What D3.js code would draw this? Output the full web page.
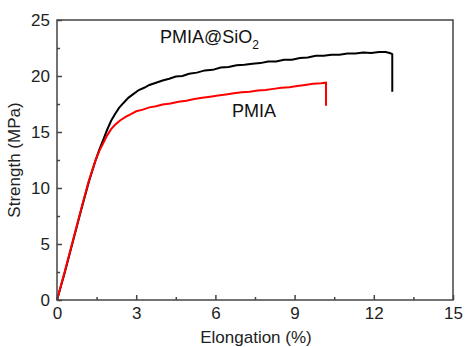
<!DOCTYPE html>
<html><head><meta charset="utf-8">
<script src="https://cdn.jsdelivr.net/npm/d3@7"></script>
<style>body{margin:0;background:#fff}svg{display:block}text{font-family:"Liberation Sans",Arial,sans-serif}</style>
</head><body>
<svg id="c" width="465" height="347"></svg>
<script>
const sio2X = [0,0.3,0.6,0.9,1.2,1.45,1.6,1.75,1.9,2.05,2.2,2.35,2.5,2.7,2.9,3.1,3.3,3.5,3.75,4.0,4.25,4.5,4.75,5.0,5.3,5.6,5.9,6.2,6.5,6.8,7.1,7.4,7.7,8.0,8.3,8.6,8.9,9.2,9.5,9.8,10.1,10.4,10.7,11.0,11.3,11.6,11.9,12.2,12.45,12.6,12.7,12.7];
const sio2Y = [0,2.5,5.2,7.9,10.5,12.4,13.4,14.3,15.2,16.0,16.6,17.15,17.55,18.05,18.4,18.75,18.95,19.2,19.4,19.6,19.75,19.95,20.0,20.2,20.3,20.5,20.55,20.75,20.8,20.95,21.0,21.1,21.15,21.3,21.3,21.45,21.45,21.6,21.65,21.8,21.8,21.9,21.9,22.0,22.0,22.1,22.05,22.15,22.15,22.05,21.95,18.6];
const pmiaX = [0,0.3,0.6,0.9,1.2,1.45,1.6,1.75,1.9,2.05,2.2,2.4,2.6,2.8,3.0,3.25,3.5,3.75,4.0,4.3,4.6,4.9,5.2,5.5,5.8,6.1,6.4,6.7,7.0,7.3,7.6,7.9,8.2,8.5,8.8,9.1,9.4,9.7,10.0,10.19,10.19];
const pmiaY = [0,2.6,5.3,8.0,10.6,12.4,13.3,14.0,14.7,15.25,15.65,16.05,16.35,16.6,16.85,17.0,17.2,17.3,17.45,17.55,17.7,17.8,17.95,18.05,18.15,18.25,18.35,18.45,18.55,18.6,18.7,18.75,18.85,18.95,19.0,19.1,19.2,19.3,19.35,19.4,17.35];
const xTicks = [0,3,6,9,12,15];
const yTicks = [0,5,10,15,20,25];
const xMinor = [1.5,4.5,7.5,10.5,13.5];
const yMinor = [2.5,7.5,12.5,17.5,22.5];

const svg = d3.select("#c");
const L=57,R=453,T=20,B=300;
const x = d3.scaleLinear().domain([0,15]).range([L,R]);
const y = d3.scaleLinear().domain([0,25]).range([B,T]);
const axC="#444";

const line = d3.line().x(d=>x(d[0])).y(d=>y(d[1]));
svg.append("path").datum(sio2X.map((v,i)=>[v,sio2Y[i]])).attr("d",line).attr("fill","none").attr("stroke","#000").attr("stroke-width",2);
svg.append("path").datum(pmiaX.map((v,i)=>[v,pmiaY[i]])).attr("d",line).attr("fill","none").attr("stroke","#ff0000").attr("stroke-width",2);

svg.append("rect").attr("x",L).attr("y",T).attr("width",R-L).attr("height",B-T).attr("fill","none").attr("stroke",axC).attr("stroke-width",1.5);

const gx = svg.append("g").attr("transform",`translate(0,${B})`)
  .call(d3.axisBottom(x).tickValues(xTicks).tickSize(-5).tickPadding(7).tickFormat(d3.format("d")));
gx.select(".domain").remove();
const gy = svg.append("g").attr("transform",`translate(${L},0)`)
  .call(d3.axisLeft(y).tickValues(yTicks).tickSize(-5).tickPadding(7).tickFormat(d3.format("d")));
gy.select(".domain").remove();
[gx,gy].forEach(g=>{g.selectAll("line").attr("stroke",axC).attr("stroke-width",1.5);
  g.selectAll("text").attr("fill","#222").style("font-size","17px").style("font-family","Liberation Sans, Arial, sans-serif");});

const gxm = svg.append("g").attr("transform",`translate(0,${B})`).call(d3.axisBottom(x).tickValues(xMinor).tickSize(-3).tickFormat(""));
gxm.select(".domain").remove();
const gym = svg.append("g").attr("transform",`translate(${L},0)`).call(d3.axisLeft(y).tickValues(yMinor).tickSize(-3).tickFormat(""));
gym.select(".domain").remove();
[gxm,gym].forEach(g=>g.selectAll("line").attr("stroke",axC).attr("stroke-width",1.5));

svg.append("text").attr("x",(L+R)/2+1).attr("y",343).attr("text-anchor","middle").attr("fill","#222").style("font-size","17px").text("Elongation (%)");
svg.append("text").attr("transform",`translate(20,${(T+B)/2}) rotate(-90)`).attr("text-anchor","middle").attr("fill","#222").style("font-size","17px").text("Strength (MPa)");

const t1 = svg.append("text").attr("x",160).attr("y",43).attr("fill","#111").style("font-size","18px");
t1.append("tspan").text("PMIA@SiO");
t1.append("tspan").attr("dy",6).style("font-size","12px").text("2");
svg.append("text").attr("x",232).attr("y",117).attr("fill","#111").style("font-size","18px").text("PMIA");
</script>
</body></html>
